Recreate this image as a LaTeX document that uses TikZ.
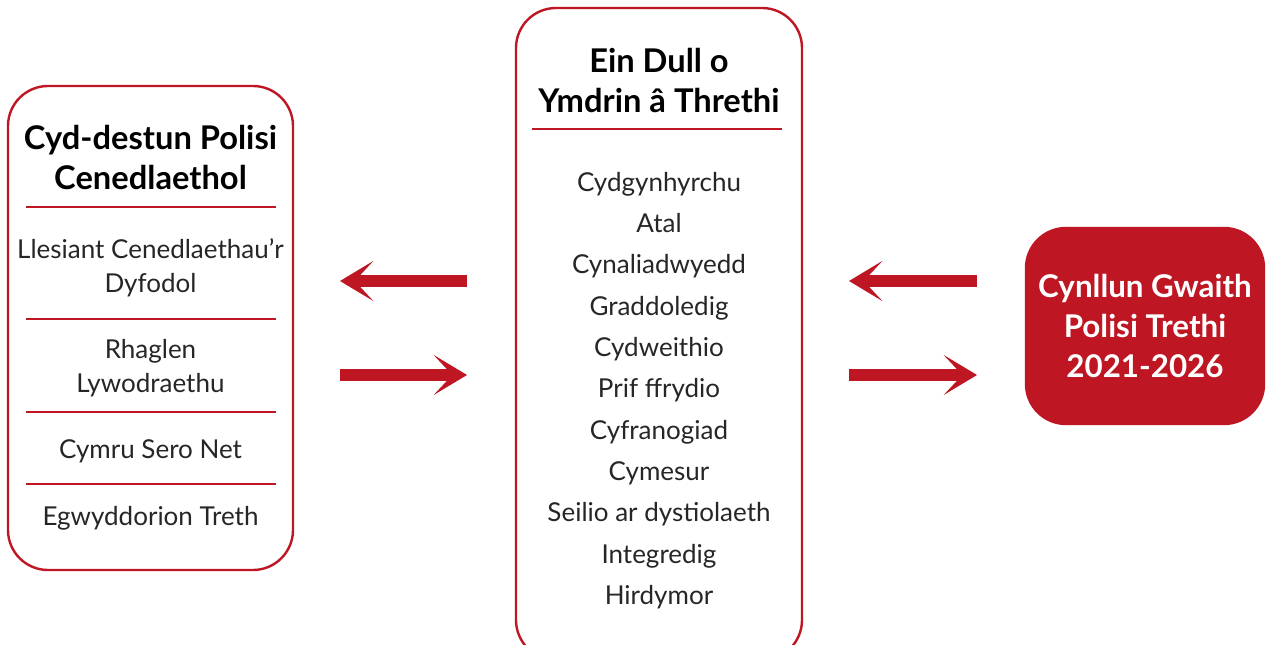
\documentclass[tikz,border=0pt]{standalone}
\usepackage{fontspec}
\setmainfont{Lato}
\usetikzlibrary{arrows.meta}
\definecolor{cymred}{RGB}{190,22,34}

\begin{document}
\begin{tikzpicture}[x=0.75pt,y=-0.75pt,
    box/.style={draw=cymred,line width=1.8pt,rounded corners=30pt},
    rule/.style={cymred,line width=0.9pt},
    head/.style={font=\bfseries\fontsize{24.5}{30}\selectfont,align=center},
    item/.style={font=\fontsize{19.5}{25.5}\selectfont,text=black!85,align=center},
    bigarrow/.style={cymred,line width=8.8pt,-{Stealth[length=25pt,width=30pt,inset=14pt]}}]
    \useasboundingbox (0,0) rectangle (1266,645);
    \clip (0,0) rectangle (1266,645);

    % boxes
    \node[box,minimum width=213.75pt,minimum height=363pt](ctx)at(150.5,328){};
    \node[box,minimum width=214.5pt,minimum height=489pt](dull)at(659,334){};
    \node[box,fill=cymred,minimum width=178.5pt,minimum height=147pt,
          head,font=\bfseries\fontsize{23.5}{30}\selectfont,text=white](plan)at(1145,326){Cynllun Gwaith\\Polisi Trethi\\2021-2026};

    % left box
    \node[head](ctxtitle)at(150.5,157){Cyd-destun Polisi\\Cenedlaethol};
    \draw[rule](26,207)--(276,207);
    \node[item](llesiant)at(150.5,268){Llesiant Cenedlaethau’r\\Dyfodol};
    \draw[rule](26,319)--(276,319);
    \node[item](rhaglen)at(150.5,368){Rhaglen\\Lywodraethu};
    \draw[rule](26,412)--(276,412);
    \node[item](sero)at(150.5,451){Cymru Sero Net};
    \draw[rule](26,484)--(276,484);
    \node[item](egwyddorion)at(150.5,518){Egwyddorion Treth};

    % centre box
    \node[head](dulltitle)at(659,80){Ein Dull o\\Ymdrin â Threthi};
    \draw[rule](532,129)--(782,129);
    \node[item,font=\fontsize{19.5}{31}\selectfont](egwyddor)at(659,390.5){Cydgynhyrchu\\Atal\\Cynaliadwyedd\\Graddoledig\\Cydweithio\\Prif ffrydio\\Cyfranogiad\\Cymesur\\Seilio ar dystiolaeth\\Integredig\\Hirdymor};

    % arrows
    \coordinate(a1)at(467,281); \coordinate(a2)at(340,281);
    \coordinate(a3)at(340,375); \coordinate(a4)at(467,375);
    \coordinate(b1)at(977,281); \coordinate(b2)at(849,281);
    \coordinate(b3)at(849,375); \coordinate(b4)at(977,375);
    \draw[bigarrow](a1)--(a2);
    \draw[bigarrow](a3)--(a4);
    \draw[bigarrow](b1)--(b2);
    \draw[bigarrow](b3)--(b4);
\end{tikzpicture}
\end{document}
